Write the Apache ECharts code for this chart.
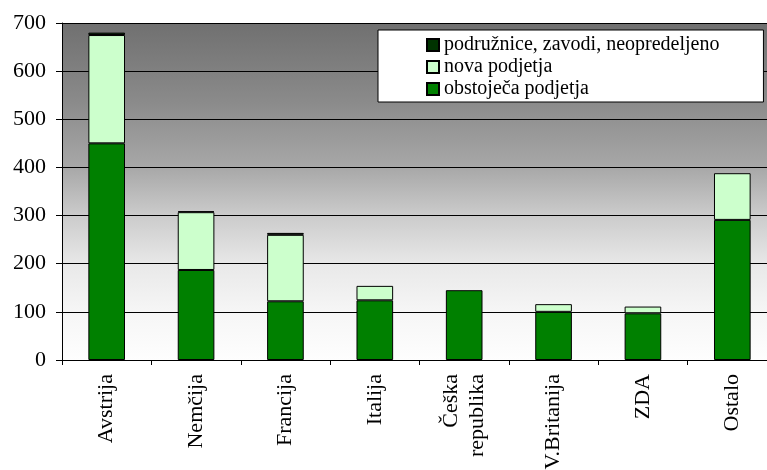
<!DOCTYPE html>
<html>
<head>
<meta charset="utf-8">
<script src="https://cdn.jsdelivr.net/npm/echarts@6/dist/echarts.min.js"></script>
<style>
  html, body { margin: 0; padding: 0; background: #fff; }
  #chart { width: 767px; height: 470px; }
</style>
</head>
<body>
<div id="chart"></div>
<script>
// drzave (categories)
var countries = ['Avstrija', 'Nemčija', 'Francija', 'Italija', 'Češka\nrepublika', 'V.Britanija', 'ZDA', 'Ostalo'];
// series values
var obstojeca = [450, 187, 122, 124, 145, 100, 97, 291];
var nova = [225, 120, 138, 30, 0, 16, 14, 97];
var podruznice = [5, 2, 4, 0, 0, 0, 0, 0];
var yTicks = [0, 100, 200, 300, 400, 500, 600, 700];

var font = "'Liberation Serif', 'Times New Roman', serif";

// zero segments would still show their border, so leave them empty
function noZero(arr) {
  return arr.map(function (v) { return v === 0 ? '-' : v; });
}

var chart = echarts.init(document.getElementById('chart'));
chart.setOption({
  backgroundColor: '#ffffff',
  animation: false,
  textStyle: { fontFamily: font },
  grid: {
    left: 62, top: 23, right: -10, bottom: 110,
    outerBoundsMode: 'none',
    containLabel: false,
    show: true,
    borderWidth: 0,
    backgroundColor: new echarts.graphic.LinearGradient(0, 0, 0, 1, [
      { offset: 0, color: '#707070' },
      { offset: 0.23, color: '#8a8a8a' },
      { offset: 0.43, color: '#a8a8a8' },
      { offset: 0.57, color: '#cbcbcb' },
      { offset: 0.72, color: '#e9e9e9' },
      { offset: 0.86, color: '#f6f6f6' },
      { offset: 1, color: '#fefefe' }
    ])
  },
  legend: {
    orient: 'vertical',
    left: 378, top: 30,
    padding: [5, 44, 3, 48],
    backgroundColor: '#ffffff',
    borderColor: '#000000',
    borderWidth: 1,
    itemWidth: 12, itemHeight: 12,
    itemGap: 2,
    icon: 'rect',
    textStyle: { fontFamily: font, fontSize: 20, color: '#000' },
    data: ['podružnice, zavodi, neopredeljeno', 'nova podjetja', 'obstoječa podjetja']
  },
  xAxis: {
    type: 'category',
    data: countries,
    axisLine: { lineStyle: { color: '#000', width: 1 } },
    axisTick: { show: true, length: 5, lineStyle: { color: '#000' } },
    axisLabel: {
      rotate: 90, margin: 14, interval: 0,
      fontFamily: font, fontSize: 22, color: '#000', lineHeight: 26
    }
  },
  yAxis: {
    type: 'value',
    min: 0, max: 700, interval: 100,
    axisLine: { show: true, lineStyle: { color: '#000', width: 1 } },
    axisTick: { show: true, length: 6, lineStyle: { color: '#000' } },
    splitLine: { show: true, lineStyle: { color: '#000', width: 1 } },
    axisLabel: {
      margin: 16, fontFamily: font, fontSize: 22, color: '#000',
      formatter: function (v) { return yTicks.indexOf(v) >= 0 ? String(v) : ''; }
    }
  },
  series: [
    {
      name: 'obstoječa podjetja', type: 'bar', stack: 'a',
      barWidth: '41%',
      itemStyle: { color: '#008000', borderColor: '#000', borderWidth: 1 },
      data: noZero(obstojeca)
    },
    {
      name: 'nova podjetja', type: 'bar', stack: 'a',
      itemStyle: { color: '#ccffcc', borderColor: '#000', borderWidth: 1 },
      data: noZero(nova)
    },
    {
      name: 'podružnice, zavodi, neopredeljeno', type: 'bar', stack: 'a',
      itemStyle: { color: '#003300', borderColor: '#000', borderWidth: 1 },
      data: noZero(podruznice)
    }
  ]
});
</script>
</body>
</html>
